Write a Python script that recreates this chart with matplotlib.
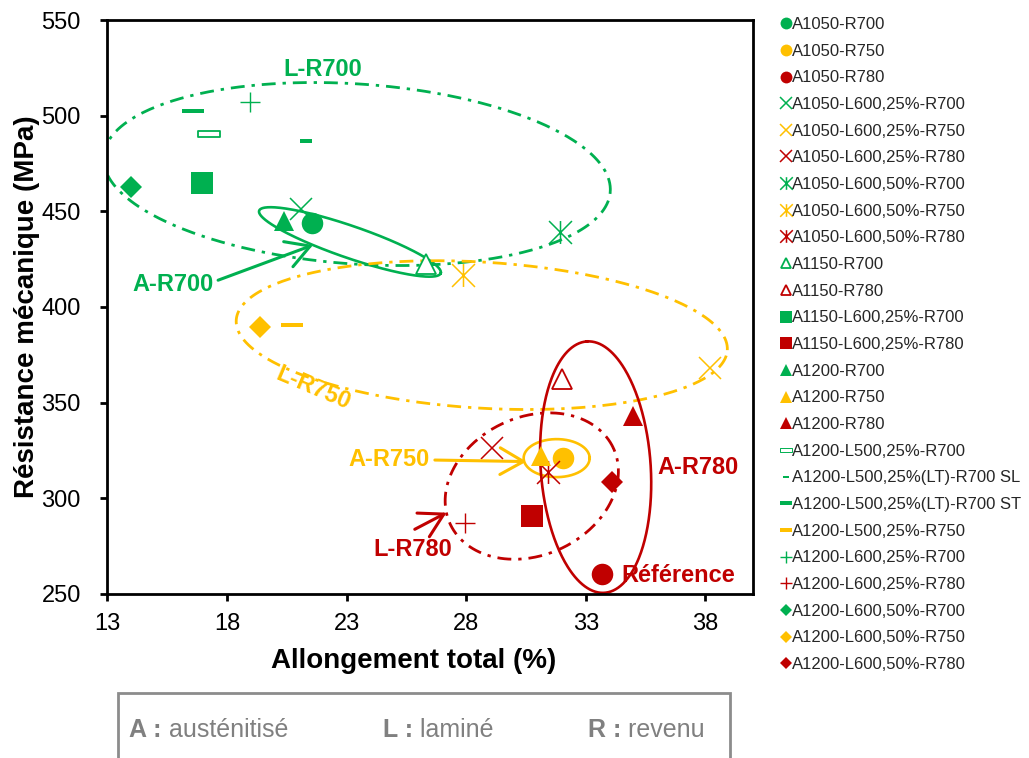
import numpy as np
import matplotlib
matplotlib.use('Agg')
import matplotlib.pyplot as plt
from matplotlib.path import Path
from matplotlib.lines import Line2D
from matplotlib.patches import Rectangle

plt.rcParams['font.family'] = ['Liberation Sans', 'DejaVu Sans']

GREEN = '#00B050'
YELLOW = '#FFC000'
RED = '#C00000'

# ---- data: (allongement %, resistance MPa) ----
labels = ['A1050-R700', 'A1050-R750', 'A1050-R780',
          'A1050-L600,25%-R700', 'A1050-L600,25%-R750', 'A1050-L600,25%-R780',
          'A1050-L600,50%-R700', 'A1050-L600,50%-R750', 'A1050-L600,50%-R780',
          'A1150-R700', 'A1150-R780',
          'A1150-L600,25%-R700', 'A1150-L600,25%-R780',
          'A1200-R700', 'A1200-R750', 'A1200-R780',
          'A1200-L500,25%-R700', 'A1200-L500,25%(LT)-R700 SL',
          'A1200-L500,25%(LT)-R700 ST', 'A1200-L500,25%-R750',
          'A1200-L600,25%-R700', 'A1200-L600,25%-R780',
          'A1200-L600,50%-R700', 'A1200-L600,50%-R750', 'A1200-L600,50%-R780']
allongement = [21.55, 32.05, 33.69,
               21.08, 38.18, 29.06,
               31.91, 27.85, 31.40,
               26.34, 32.00,
               16.96, 30.75,
               20.39, 31.12, 34.97,
               17.26, 21.30, 16.57, 20.72,
               18.97, 27.97,
               13.98, 19.38, 34.08]
resistance = [443.9, 321.2, 260.4,
              451.0, 367.9, 326.4,
              439.0, 416.7, 313.9,
              422.5, 362.2,
              464.6, 290.7,
              445.0, 322.0, 343.0,
              490.4, 486.6, 502.4, 390.6,
              507.3, 287.2,
              462.5, 389.4, 308.3]
couleurs = [GREEN, YELLOW, RED,
            GREEN, YELLOW, RED,
            GREEN, YELLOW, RED,
            GREEN, RED,
            GREEN, RED,
            GREEN, YELLOW, RED,
            GREEN, GREEN, GREEN, YELLOW,
            GREEN, RED,
            GREEN, YELLOW, RED]

# ---- marker shapes ----
star = Path([(-1, -1), (1, 1), (-1, 1), (1, -1), (0, -1), (0, 1)],
            [Path.MOVETO, Path.LINETO, Path.MOVETO, Path.LINETO, Path.MOVETO, Path.LINETO])
def bar(h):
    return Path([(-1, -h), (1, -h), (1, h), (-1, h), (-1, -h)],
                [Path.MOVETO, Path.LINETO, Path.LINETO, Path.LINETO, Path.CLOSEPOLY])

def style(i, c):
    # marker, size, face, edge width
    if i < 3:
        return dict(marker='o', ms=15.5, mfc=c, mec=c, mew=0)
    if i < 6:
        return dict(marker='x', ms=16, mfc='none', mec=c, mew=1.1)
    if i < 9:
        return dict(marker=star, ms=16.5, mfc='none', mec=c, mew=1.1)
    if i < 11:
        return dict(marker='^', ms=14, mfc='white', mec=c, mew=1.3)
    if i < 13:
        return dict(marker='s', ms=15.5, mfc=c, mec=c, mew=0)
    if i < 16:
        return dict(marker='^', ms=14.5, mfc=c, mec=c, mew=0)
    if i == 16:
        return dict(marker=bar(0.26), ms=16.5, mfc='white', mec=c, mew=1.3)
    if i == 17:
        return dict(marker=bar(0.42), ms=8, mfc=c, mec=c, mew=0)
    if i in (18, 19):
        return dict(marker=bar(0.2), ms=16, mfc=c, mec=c, mew=0)
    if i < 22:
        return dict(marker='+', ms=15, mfc='none', mec=c, mew=1.0)
    return dict(marker='D', ms=11.5, mfc=c, mec=c, mew=0)

# legend keys for the dashes are drawn a little differently (as in the original)
legend_dash = {16: dict(marker=bar(0.3), ms=16, mfc='white', mec=GREEN, mew=0.7),
               17: dict(marker=bar(0.4), ms=9, mfc=GREEN, mec=GREEN, mew=0),
               18: dict(marker=bar(0.35), ms=16, mfc=GREEN, mec=GREEN, mew=0),
               19: dict(marker=bar(0.25), ms=16, mfc=YELLOW, mec=YELLOW, mew=0)}

fig = plt.figure(figsize=(10.29, 7.58), dpi=100)
ax = fig.add_axes([0.1043, 0.2164, 0.7321 - 0.1043, 0.9736 - 0.2164])
ax.set_xlim(13, 40)
ax.set_ylim(250, 550)
ax.set_xticks(np.arange(13, 40, 5))
ax.set_yticks(np.arange(250, 551, 50))
ax.tick_params(direction='out', length=5, width=2, labelsize=17, colors='black')
ax.tick_params(axis='x', pad=9)
ax.tick_params(axis='y', pad=14)
for s in ax.spines.values():
    s.set_linewidth(2)

# ---- ellipses: center (data), semi-axes (px), angle (deg) ----
ellipses = [
    ((23.43, 469.5), 254, 90, -4, GREEN, 'dd'),
    ((23.14, 434.0), 96, 16, -19, GREEN, '-'),
    ((28.65, 385.3), 246, 73, -3.5, YELLOW, 'dd'),
    ((31.78, 321.0), 33, 19, 0, YELLOW, '-'),
    ((33.41, 316.3), 126, 55, 94, RED, '-'),
    ((30.74, 306.4), 90, 69, 25, RED, 'dd'),
]
t = np.linspace(0, 2 * np.pi, 400)
for (cx, cy), a, b, ang, c, ls in ellipses:
    px, py = ax.transData.transform((cx, cy))
    th = np.deg2rad(ang)
    ex = px + a * np.cos(t) * np.cos(th) - b * np.sin(t) * np.sin(th)
    ey = py + a * np.cos(t) * np.sin(th) + b * np.sin(t) * np.cos(th)
    pts = ax.transData.inverted().transform(np.column_stack([ex, ey]))
    if ls == 'dd':
        ax.plot(pts[:, 0], pts[:, 1], color=c, lw=2, linestyle=(0, (5, 2.5, 1.2, 2.5)), zorder=1)
    else:
        ax.plot(pts[:, 0], pts[:, 1], color=c, lw=1.9, zorder=1)

handles = []
for i, lab in enumerate(labels):
    st = style(i, couleurs[i])
    ax.plot([allongement[i]], [resistance[i]], linestyle='none', zorder=3, **st)
    handles.append(Line2D([], [], linestyle='none', **legend_dash.get(i, st)))

# ---- annotations ----
bold = dict(fontsize=17, fontweight='bold')
ax.text(22.0, 523.9, 'L-R700', color=GREEN, ha='center', va='center', **bold)
ax.text(21.6, 357.5, 'L-R750', color=YELLOW, ha='center', va='center', rotation=-23, **bold)
ax.text(37.67, 316.3, 'A-R780', color=RED, ha='center', va='center', **bold)
ax.text(34.49, 259.9, 'Référence', color=RED, ha='left', va='center', **bold)
arrow = lambda c: dict(arrowstyle='->,head_length=0.7,head_width=0.4', color=c, lw=2.2,
                       shrinkA=0, shrinkB=0, mutation_scale=24)
ax.annotate('', xy=(21.6, 432.4), xytext=(17.63, 414.0), arrowprops=arrow(GREEN))
ax.text(15.74, 412.0, 'A-R700', color=GREEN, ha='center', va='center', **bold)
ax.annotate('', xy=(30.52, 319.2), xytext=(26.69, 320.0), arrowprops=arrow(YELLOW))
ax.text(24.77, 320.5, 'A-R750', color=YELLOW, ha='center', va='center', **bold)
ax.annotate('', xy=(27.18, 292.5), xytext=(25.85, 283.8), arrowprops=arrow(RED))
ax.text(25.77, 273.0, 'L-R780', color=RED, ha='center', va='center', **bold)

# ---- axis titles ----
fig.text(413.5 / 1029, 1 - 668 / 758, 'Allongement total (%)', ha='center', va='baseline',
         fontsize=20, fontweight='bold')
fig.text(27 / 1029, 1 - 307 / 758, 'Résistance mécanique (MPa)', ha='center', va='center',
         rotation=90, fontsize=20, fontweight='bold')

# ---- legend ----
fig.legend(handles, labels, loc='upper left', bbox_to_anchor=(779 / 1029, 1 - 17 / 758),
           frameon=False, fontsize=12, markerscale=0.55, handlelength=0.8, handletextpad=0.0,
           labelspacing=0.7, borderpad=0, borderaxespad=0, labelcolor='#262626')

# ---- abbreviations box ----
fig.patches.append(Rectangle((118 / 1029, -0.1), (730 - 118) / 1029, 0.1 + 1 - 693 / 758,
                             transform=fig.transFigure, fill=False, edgecolor='#8c8c8c', lw=2))
renderer = fig.canvas.get_renderer()
yb = 1 - 737 / 758
for x0, key, word in [(129, 'A :', ' austénitisé'), (383, 'L :', ' laminé'), (588, 'R :', ' revenu')]:
    tk = fig.text(x0 / 1029, yb, key, fontsize=18, fontweight='bold', color='#808080', va='baseline')
    bb = tk.get_window_extent(renderer)
    fig.text(bb.x1 / 1029, yb, word, fontsize=18, color='#808080', va='baseline')

fig.savefig('out.png', dpi=100)
